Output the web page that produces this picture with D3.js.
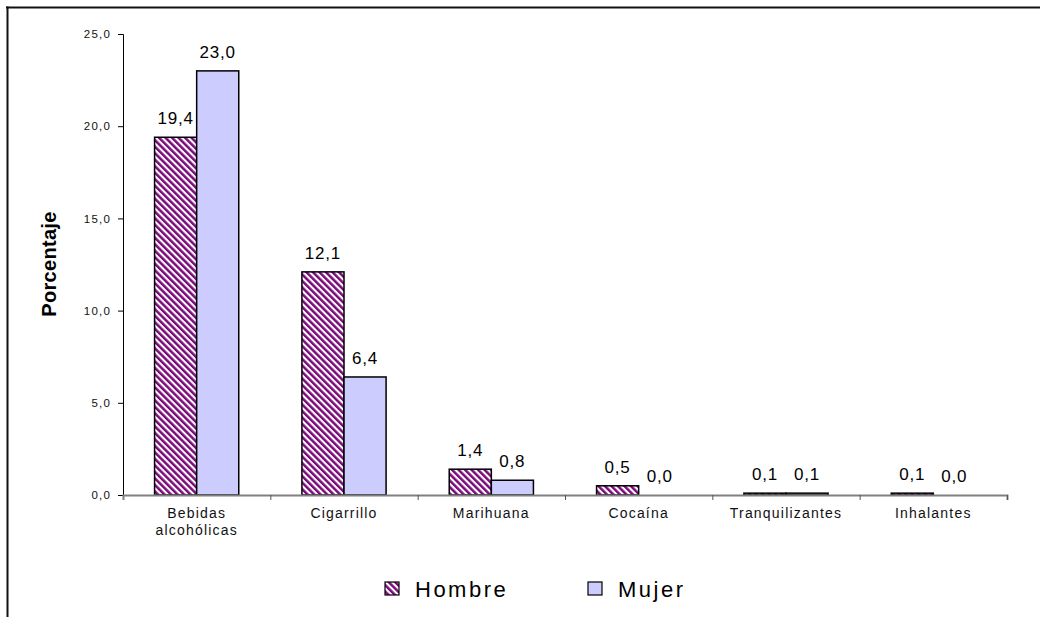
<!DOCTYPE html>
<html>
<head>
<meta charset="utf-8">
<script src="https://cdn.jsdelivr.net/npm/d3@7"></script>
<style>
  html, body { margin: 0; padding: 0; background: #fff; }
  svg { display: block; font-family: "Liberation Sans", Arial, sans-serif; }
</style>
</head>
<body>
<svg id="chart" width="1040" height="617"></svg>
<script>
// Consumo por sustancia y sexo (%)
const categories = [["Bebidas", "alcohólicas"], ["Cigarrillo"], ["Marihuana"], ["Cocaína"], ["Tranquilizantes"], ["Inhalantes"]];
const seriesNames = ["Hombre", "Mujer"];
const hombre = [19.4, 12.1, 1.4, 0.5, 0.1, 0.1];
const mujer = [23.0, 6.4, 0.8, 0.0, 0.1, 0.0];
const yTicks = [0, 5, 10, 15, 20, 25];

const svg = d3.select("#chart");
const fmt = v => d3.format(".1f")(v).replace(".", ",");

// hatch for the first series
const defs = svg.append("defs");
const pat = defs.append("pattern")
  .attr("id", "hatch")
  .attr("patternUnits", "userSpaceOnUse")
  .attr("width", 4.6).attr("height", 4.6)
  .attr("patternTransform", "rotate(-45)");
pat.append("rect").attr("width", 4.6).attr("height", 4.6).attr("fill", "#ffffff");
pat.append("rect").attr("width", 2.5).attr("height", 4.6).attr("fill", "#7a0a7a");

// outer frame (top and left edges)
svg.append("line").attr("x1", 6).attr("x2", 1040).attr("y1", 7.5).attr("y2", 7.5)
  .attr("stroke", "#111").attr("stroke-width", 2);
svg.append("line").attr("x1", 7.5).attr("x2", 7.5).attr("y1", 6.5).attr("y2", 617)
  .attr("stroke", "#111").attr("stroke-width", 2);

const x = d3.scaleBand().domain(d3.range(categories.length)).range([123, 1007]).padding(0);
const xs = d3.scaleBand().domain(seriesNames).range([0, x.bandwidth()]).paddingInner(0).paddingOuter(0.75);
const y = d3.scaleLinear().domain([0, 25]).range([495, 34]);

// y axis
const yAxis = svg.append("g").attr("transform", "translate(123,0)")
  .call(d3.axisLeft(y).tickValues(yTicks).tickFormat(fmt).tickSize(5).tickPadding(7));
yAxis.select(".domain").attr("stroke", "#000").attr("stroke-width", 1);
yAxis.selectAll(".tick line").attr("stroke", "#000");
yAxis.selectAll("text").attr("font-size", 11.5).attr("letter-spacing", 1.2)
  .attr("fill", "#111").attr("font-family", "Liberation Sans, Arial, sans-serif");

// y title
svg.append("text")
  .attr("transform", "translate(56,264) rotate(-90)")
  .attr("text-anchor", "middle")
  .attr("font-size", 20).attr("font-weight", "bold").attr("letter-spacing", 0.3)
  .attr("fill", "#000")
  .text("Porcentaje");

// bars
const series = [
  { name: "Hombre", values: hombre, fill: "url(#hatch)" },
  { name: "Mujer", values: mujer, fill: "#ccccff" }
];

series.forEach(s => {
  const g = svg.append("g");
  g.selectAll("rect").data(s.values).join("rect")
    .attr("x", (d, i) => x(i) + xs(s.name))
    .attr("y", d => y(d))
    .attr("width", xs.bandwidth())
    .attr("height", d => y(0) - y(d))
    .attr("fill", s.fill)
    .attr("stroke", "#000").attr("stroke-width", 1.5)
    .style("display", d => d > 0 ? null : "none");
  g.selectAll("text").data(s.values).join("text")
    .attr("x", (d, i) => x(i) + xs(s.name) + xs.bandwidth() / 2)
    .attr("y", d => y(d) - 13)
    .attr("text-anchor", "middle")
    .attr("font-size", 17).attr("letter-spacing", 0.8)
    .attr("fill", "#000")
    .text(d => fmt(d));
});

// x axis
const xAxis = svg.append("g").attr("transform", "translate(0,495)")
  .call(d3.axisBottom(d3.scaleLinear().domain([0, categories.length]).range([123, 1007]))
    .tickValues(d3.range(1, categories.length + 1)).tickSize(5).tickFormat(""));
xAxis.select(".domain").attr("stroke", "#808080").attr("stroke-width", 2);
xAxis.selectAll(".tick line").attr("stroke", "#555");

// category labels
const cat = svg.append("g");
cat.selectAll("text").data(categories).join("text")
  .attr("x", (d, i) => x(i) + x.bandwidth() / 2)
  .attr("y", 518)
  .attr("text-anchor", "middle")
  .attr("font-size", 14).attr("letter-spacing", 1.2)
  .attr("fill", "#111")
  .each(function(d) {
    const t = d3.select(this);
    d.forEach((line, k) => {
      t.append("tspan").attr("x", t.attr("x")).attr("dy", k === 0 ? 0 : 17).text(line);
    });
  });

// legend
const legend = svg.append("g");
const legendX = [385, 588];
series.forEach((s, i) => {
  legend.append("rect")
    .attr("x", legendX[i]).attr("y", 582)
    .attr("width", 14).attr("height", 13)
    .attr("fill", s.fill).attr("stroke", "#000").attr("stroke-width", 1.2);
  legend.append("text")
    .attr("x", legendX[i] + 30).attr("y", 597)
    .attr("font-size", 22).attr("letter-spacing", 2.5)
    .attr("fill", "#000")
    .text(s.name);
});
</script>
</body>
</html>
